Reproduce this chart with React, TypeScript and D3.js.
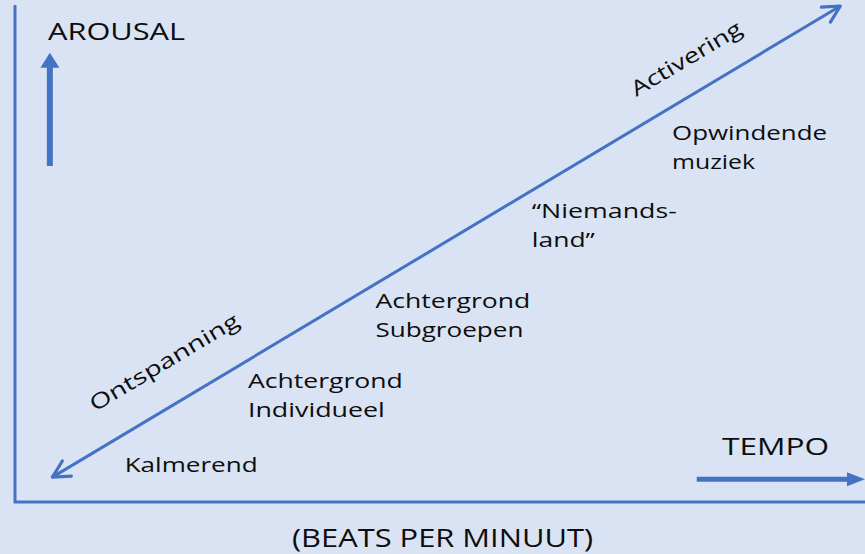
import * as d3 from "d3";

// diagram coordinates: tempo (x) and arousal (y), both 0..100
const levelLabels = [
  ["Kalmerend"],
  ["Achtergrond", "Individueel"],
  ["Achtergrond", "Subgroepen"],
  ["\u201cNiemands-", "land\u201d"],
  ["Opwindende", "muziek"],
];
const levelTempo = [12.9, 27.4, 42.4, 60.8, 77.3];
const levelArousal = [6.0, 22.9, 39.0, 57.1, 72.8];

const poleLabels = ["Ontspanning", "Activering"];
const poleTempo = [9.4, 73.1];
const poleArousal = [18.1, 81.5];

const diagonalTempo = [4.4, 97.1];
const diagonalArousal = [5.0, 99.8];

const arousalArrowTempo = [4.1, 4.1];
const arousalArrowLevel = [67.6, 90.4];
const tempoArrowTempo = [80.2, 100];
const tempoArrowLevel = [4.6, 4.6];

const axisTitles = ["AROUSAL", "TEMPO", "(BEATS PER MINUUT)"];

const W = 865;
const H = 554;
const blue = "#4472c4";
const ink = "#0d0d0d";
const font = "'Open Sans', sans-serif";

// the source picture is stretched horizontally, so lines get an explicit width
const lineWidths: Record<string, number> = {
  Kalmerend: 133,
  Achtergrond: 155,
  Individueel: 137,
  Subgroepen: 148,
  "\u201cNiemands-": 145,
  "land\u201d": 63,
  Opwindende: 155,
  muziek: 83,
};

const x = d3.scaleLinear().domain([0, 100]).range([15, 865]);
const y = d3.scaleLinear().domain([0, 100]).range([502, 5]);

const App = () => {
  const x0 = x(diagonalTempo[0]);
  const y0 = y(diagonalArousal[0]);
  const x1 = x(diagonalTempo[1]);
  const y1 = y(diagonalArousal[1]);
  const ang = Math.atan2(y1 - y0, x1 - x0);
  const angDeg = (ang * 180) / Math.PI;

  // open chevron head at point (px,py) pointing in direction a
  const chevron = (px: number, py: number, a: number) => {
    const len = 19;
    const spread = 0.48;
    const p = d3.path();
    p.moveTo(px - len * Math.cos(a - spread), py - len * Math.sin(a - spread));
    p.lineTo(px, py);
    p.lineTo(px - len * Math.cos(a + spread), py - len * Math.sin(a + spread));
    return p.toString();
  };

  const line = d3
    .line<[number, number]>()
    .x((d) => d[0])
    .y((d) => d[1]);

  // vertical block arrow (arousal)
  const ax = x(arousalArrowTempo[0]);
  const aBot = y(arousalArrowLevel[0]);
  const aTop = y(arousalArrowLevel[1]);
  const upArrow = line([
    [ax - 3, aBot],
    [ax - 3, aTop + 15],
    [ax - 9.5, aTop + 15],
    [ax, aTop],
    [ax + 9.5, aTop + 15],
    [ax + 3, aTop + 15],
    [ax + 3, aBot],
  ]);

  // horizontal block arrow (tempo)
  const ty = y(tempoArrowLevel[0]);
  const tL = x(tempoArrowTempo[0]);
  const tR = x(tempoArrowTempo[1]);
  const rightArrow = line([
    [tL, ty - 2.5],
    [tR - 18, ty - 2.5],
    [tR - 18, ty - 7],
    [tR, ty],
    [tR - 18, ty + 7],
    [tR - 18, ty + 2.5],
    [tL, ty + 2.5],
  ]);

  return (
    <svg
      width={W}
      height={H}
      style={{ position: "absolute", left: 0, top: 0, display: "block" }}
    >
      <rect width={W} height={H} fill="#dae3f3" />

      {/* axes */}
      <path
        d={line([
          [x(0), y(100)],
          [x(0), y(0)],
          [x(100), y(0)],
        ])!}
        fill="none"
        stroke={blue}
        strokeWidth={3}
      />

      {/* diagonal double arrow */}
      <line x1={x0} y1={y0} x2={x1} y2={y1} stroke={blue} strokeWidth={3} />
      <path
        d={chevron(x1, y1, ang)}
        fill="none"
        stroke={blue}
        strokeWidth={3.2}
        strokeLinecap="round"
        strokeLinejoin="round"
      />
      <path
        d={chevron(x0, y0, ang + Math.PI)}
        fill="none"
        stroke={blue}
        strokeWidth={3.2}
        strokeLinecap="round"
        strokeLinejoin="round"
      />

      <path d={upArrow!} fill={blue} />
      <path d={rightArrow!} fill={blue} />

      {/* axis titles */}
      <text x={48} y={40} fontFamily={font} fontSize={24} fill={ink} textLength={137} lengthAdjust="spacingAndGlyphs">
        {axisTitles[0]}
      </text>
      <text x={722} y={455} fontFamily={font} fontSize={24} fill={ink} textLength={107} lengthAdjust="spacingAndGlyphs">
        {axisTitles[1]}
      </text>
      <text x={292} y={547} fontFamily={font} fontSize={26} fill={ink} textLength={301} lengthAdjust="spacingAndGlyphs">
        {axisTitles[2]}
      </text>

      {/* level labels */}
      {levelLabels.map((lines, i) => (
        <g key={i}>
          {lines.map((s, j) => (
            <text
              key={j}
              x={x(levelTempo[i])}
              y={y(levelArousal[i]) + j * 29}
              fontFamily={font}
              fontSize={20}
              fill={ink}
              textLength={lineWidths[s]}
              lengthAdjust="spacingAndGlyphs"
            >
              {s}
            </text>
          ))}
        </g>
      ))}

      {/* pole labels along the diagonal */}
      {poleLabels.map((s, i) => (
        <text
          key={s}
          transform={`translate(${x(poleTempo[i])},${y(poleArousal[i])}) rotate(${angDeg})`}
          fontFamily={font}
          fontSize={21}
          fill={ink}
          textLength={i === 0 ? 170 : 125}
          lengthAdjust="spacingAndGlyphs"
        >
          {s}
        </text>
      ))}
    </svg>
  );
};

export default App;
